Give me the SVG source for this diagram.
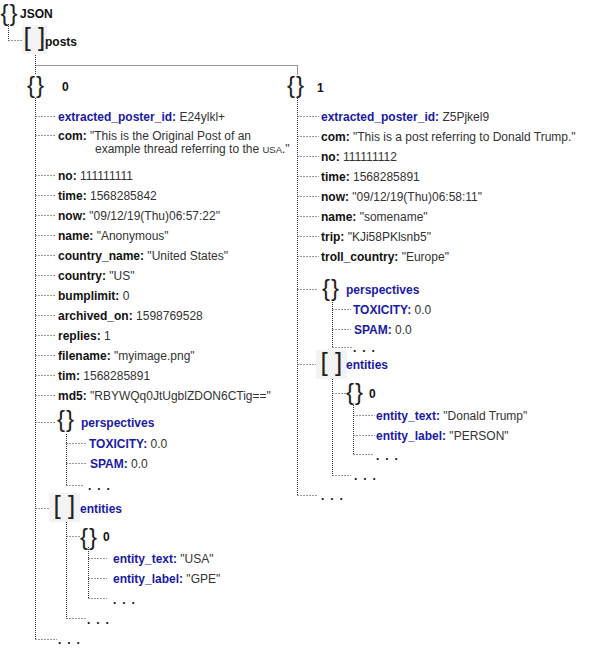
<svg xmlns="http://www.w3.org/2000/svg" width="592" height="650" viewBox="0 0 592 650">
<style>
text{font-family:"Liberation Sans",Arial,sans-serif;font-size:12px;fill:#333}
.k{font-weight:bold;fill:#111}
.b{font-weight:bold;fill:#1a1aa6}
.h{font-weight:bold;fill:#111}
.br{font-size:24px;fill:#222;letter-spacing:1px}
.sq{font-size:26px;fill:#222}
.dots{font-weight:bold;fill:#111;letter-spacing:1.3px}
.bg{fill:#f3f3f3}
.c path{fill:none;stroke:#333;stroke-width:1;stroke-dasharray:1 1}
.c path.s{stroke-dasharray:1 2}
</style>
<g id="connectors" class="c">
<path d="M8.5,24 V40.5"/>
<path class="s" d="M8.5,40.5 H22"/>
<path d="M35.5,53 V75"/>
<path d="M35.5,65.5 H297.5 V75"/>
<path d="M35.5,98 V639.5"/>
<path class="s" d="M35.5,639.5 H57"/>
<path class="s" d="M35.5,116.5 H56 M35.5,135.5 H56 M35.5,175.5 H56 M35.5,195.5 H56 M35.5,215.5 H56 M35.5,235.5 H56 M35.5,255.5 H56 M35.5,275.5 H56 M35.5,295.5 H56 M35.5,315.5 H56 M35.5,335.5 H56 M35.5,355.5 H56 M35.5,375.5 H56 M35.5,395.5 H56 M35.5,422.5 H56 M35.5,508.5 H53"/>
<path d="M66.5,434 V485.5"/>
<path class="s" d="M66.5,485.5 H84 M66.5,443.5 H87 M66.5,463.5 H87"/>
<path d="M66.5,520 V618.5"/>
<path class="s" d="M66.5,618.5 H86 M66.5,536.5 H80"/>
<path d="M88.5,547 V598.5"/>
<path class="s" d="M88.5,598.5 H107 M88.5,558.5 H107 M88.5,578.5 H107"/>
<path d="M297.5,98 V495.5"/>
<path class="s" d="M297.5,495.5 H318"/>
<path class="s" d="M297.5,116.5 H319 M297.5,136.5 H319 M297.5,156.5 H319 M297.5,176.5 H319 M297.5,196.5 H319 M297.5,216.5 H319 M297.5,236.5 H319 M297.5,256.5 H319 M297.5,289.5 H318 M297.5,364.5 H318"/>
<path d="M332.5,300 V347.5"/>
<path class="s" d="M332.5,347.5 H352 M332.5,309.5 H351 M332.5,329.5 H351"/>
<path d="M332.5,377 V475.5"/>
<path class="s" d="M332.5,475.5 H351 M332.5,393.5 H347"/>
<path d="M353.5,405 V454.5"/>
<path class="s" d="M353.5,454.5 H373 M353.5,415.5 H375 M353.5,435.5 H375"/>
</g>
<g id="json">
<text class="br" x="0.5" y="21">{}</text>
<text class="h" x="20" y="17.5">JSON</text>
</g>
<g id="posts">
<rect class="bg" x="22" y="25" width="25" height="29"/>
<text class="sq" x="23.5" y="46">[ ]</text>
<text class="h" x="45" y="45.5">posts</text>
</g>
<g id="post0">
<text class="br" x="27" y="92.5">{}</text>
<text class="h" x="62" y="91">0</text>
</g>
<g id="post0-fields">
<text x="58" y="120.5"><tspan class="b">extracted_poster_id:</tspan> E24ylkl+</text>
<text x="58" y="139.5"><tspan class="k">com:</tspan> "This is the Original Post of an</text>
<text x="95" y="153">example thread referring to the <tspan font-size="9.5">USA</tspan>."</text>
<text x="58" y="179.5"><tspan class="k">no:</tspan> 111111111</text>
<text x="58" y="199.5"><tspan class="k">time:</tspan> 1568285842</text>
<text x="58" y="219.5"><tspan class="k">now:</tspan> "09/12/19(Thu)06:57:22"</text>
<text x="58" y="239.5"><tspan class="k">name:</tspan> "Anonymous"</text>
<text x="58" y="259.5"><tspan class="k">country_name:</tspan> "United States"</text>
<text x="58" y="279.5"><tspan class="k">country:</tspan> "US"</text>
<text x="58" y="299.5"><tspan class="k">bumplimit:</tspan> 0</text>
<text x="58" y="319.5"><tspan class="k">archived_on:</tspan> 1598769528</text>
<text x="58" y="339.5"><tspan class="k">replies:</tspan> 1</text>
<text x="58" y="359.5"><tspan class="k">filename:</tspan> "myimage.png"</text>
<text x="58" y="379.5"><tspan class="k">tim:</tspan> 1568285891</text>
<text x="58" y="399.5"><tspan class="k">md5:</tspan> "RBYWQq0JtUgblZDON6CTig=="</text>
<text class="dots" x="58" y="644">. . .</text>
</g>
<g id="post0-perspectives">
<text class="br" x="57" y="427">{}</text>
<text class="b" x="81" y="426.5">perspectives</text>
<text x="89" y="447.5"><tspan class="b">TOXICITY:</tspan> 0.0</text>
<text x="90" y="467.5"><tspan class="b">SPAM:</tspan> 0.0</text>
<text class="dots" x="88" y="490">. . .</text>
</g>
<g id="post0-entities">
<rect class="bg" x="49" y="493" width="31" height="29"/>
<text class="sq" x="53.5" y="514">[ ]</text>
<text class="b" x="80" y="512.5">entities</text>
<text class="dots" x="87" y="623.5">. . .</text>
</g>
<g id="post0-entity0">
<text class="br" x="80" y="544.5">{}</text>
<text class="h" x="103" y="540.5">0</text>
<text x="113" y="562.5"><tspan class="b">entity_text:</tspan> "USA"</text>
<text x="113" y="582.5"><tspan class="b">entity_label:</tspan> "GPE"</text>
<text class="dots" x="113" y="603.5">. . .</text>
</g>
<g id="post1">
<text class="br" x="287" y="92.5">{}</text>
<text class="h" x="317" y="91.5">1</text>
</g>
<g id="post1-fields">
<text x="321" y="120.5"><tspan class="b">extracted_poster_id:</tspan> Z5Pjkel9</text>
<text x="321" y="140.5"><tspan class="k">com:</tspan> "This is a post referring to Donald Trump."</text>
<text x="321" y="160.5"><tspan class="k">no:</tspan> 111111112</text>
<text x="321" y="180.5"><tspan class="k">time:</tspan> 1568285891</text>
<text x="321" y="200.5"><tspan class="k">now:</tspan> "09/12/19(Thu)06:58:11"</text>
<text x="321" y="220.5"><tspan class="k">name:</tspan> "somename"</text>
<text x="321" y="240.5"><tspan class="k">trip:</tspan> "KJi58PKlsnb5"</text>
<text x="321" y="260.5"><tspan class="k">troll_country:</tspan> "Europe"</text>
<text class="dots" x="321" y="500">. . .</text>
</g>
<g id="post1-perspectives">
<text class="br" x="322" y="295.5">{}</text>
<text class="b" x="346" y="293.5">perspectives</text>
<text x="353" y="313.5"><tspan class="b">TOXICITY:</tspan> 0.0</text>
<text x="354" y="333.5"><tspan class="b">SPAM:</tspan> 0.0</text>
<text class="dots" x="353" y="352">. . .</text>
</g>
<g id="post1-entities">
<rect class="bg" x="316" y="350" width="31" height="29"/>
<text class="sq" x="320.5" y="371">[ ]</text>
<text class="b" x="346" y="368.5">entities</text>
<text class="dots" x="354" y="480">. . .</text>
</g>
<g id="post1-entity0">
<text class="br" x="346" y="399.5">{}</text>
<text class="h" x="369" y="397.5">0</text>
<text x="376" y="419.5"><tspan class="b">entity_text:</tspan> "Donald Trump"</text>
<text x="376" y="439.5"><tspan class="b">entity_label:</tspan> "PERSON"</text>
<text class="dots" x="376" y="459.5">. . .</text>
</g>
</svg>
